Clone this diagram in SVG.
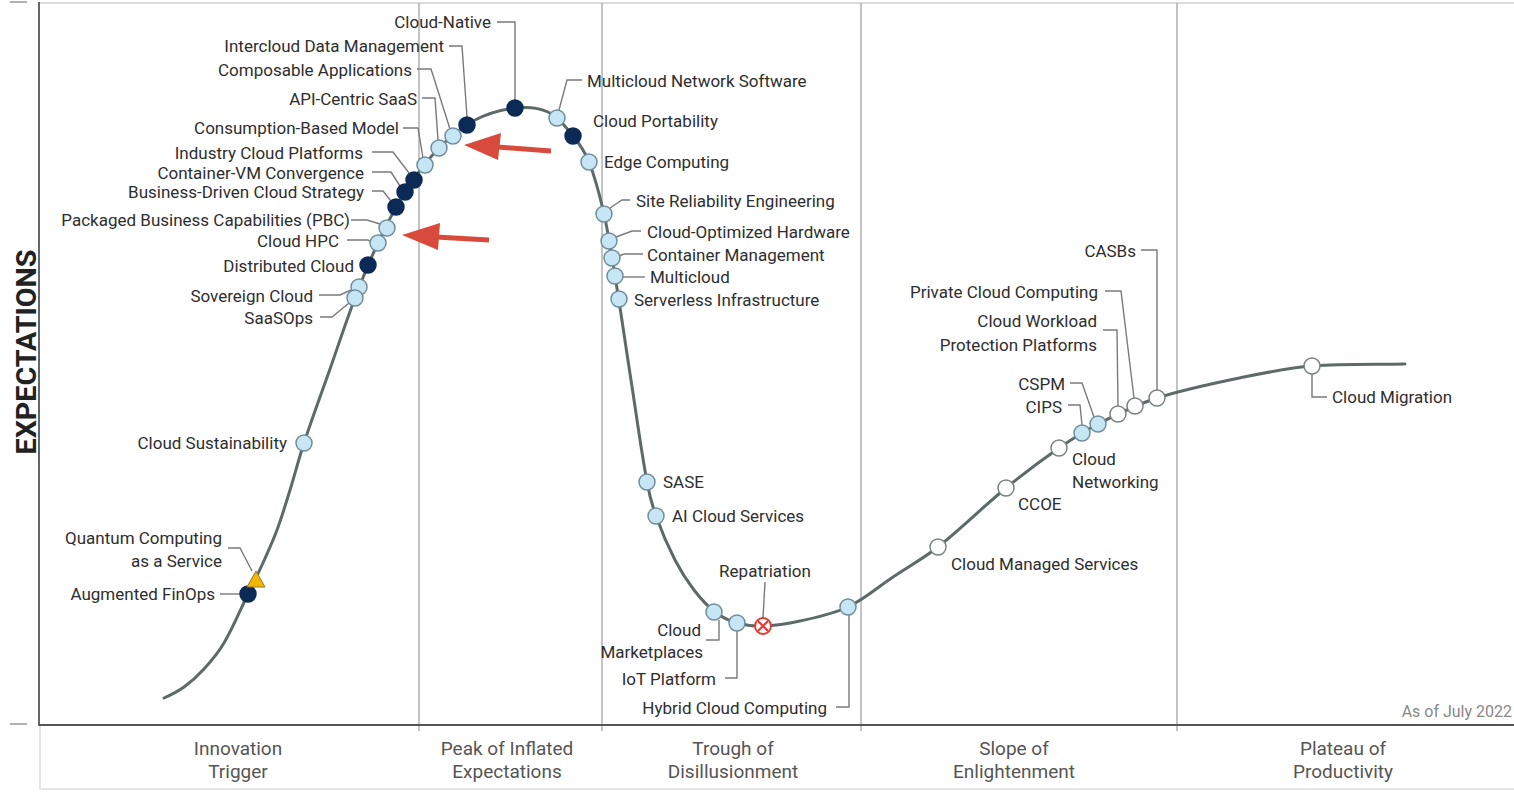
<svg xmlns="http://www.w3.org/2000/svg" width="1514" height="792" viewBox="0 0 1514 792">
<style>
.lbl{font-family:Roboto,"Liberation Sans",Arial,sans-serif;font-size:17px;fill:#2e2e2e}
.e{text-anchor:end}
.m{text-anchor:middle}
.phase{font-family:Roboto,"Liberation Sans",Arial,sans-serif;font-size:19px;fill:#555;text-anchor:middle}
.ld{fill:none;stroke:#7a7a7a;stroke-width:1.4}
.lb{fill:#c6e6f5;stroke:#6f8d9b;stroke-width:1.5}
.dk{fill:#0b2a55;stroke:#0b2a55;stroke-width:1.5}
.wh{fill:#fff;stroke:#788282;stroke-width:1.5}
.div{stroke:#b0b0b0;stroke-width:1.5}
.arr{fill:#d84a3b}
</style>
<rect width="1514" height="792" fill="#fff"/>
<g id="frame">
<line x1="39" y1="3" x2="1514" y2="3" stroke="#dcdcdc" stroke-width="2"/>
<line x1="40" y1="789" x2="1514" y2="789" stroke="#e6e6e6" stroke-width="2"/>
<line x1="40" y1="726" x2="40" y2="790" stroke="#e6e6e6" stroke-width="2"/>
<line x1="10" y1="2" x2="27" y2="2" stroke="#999" stroke-width="1.5"/>
<line x1="10" y1="724" x2="27" y2="724" stroke="#999" stroke-width="1.5"/>
<line class="div" x1="419" y1="3" x2="419" y2="731"/>
<line class="div" x1="602" y1="3" x2="602" y2="731"/>
<line class="div" x1="861" y1="3" x2="861" y2="731"/>
<line class="div" x1="1177" y1="3" x2="1177" y2="731"/>
<line x1="39" y1="2" x2="39" y2="726" stroke="#666" stroke-width="2"/>
<line x1="39" y1="725" x2="1514" y2="725" stroke="#555" stroke-width="2"/>
<text x="0" y="0" transform="translate(36,352) rotate(-90)" font-family="Roboto,'Liberation Sans',Arial,sans-serif" font-weight="bold" font-size="27" fill="#222" text-anchor="middle" textLength="205" lengthAdjust="spacingAndGlyphs">EXPECTATIONS</text>
<text x="1512" y="717" font-family="Roboto,'Liberation Sans',Arial,sans-serif" font-size="16" fill="#888" text-anchor="end">As of July 2022</text>
<text class="phase" x="238" y="755">Innovation</text><text class="phase" x="238" y="778">Trigger</text>
<text class="phase" x="507" y="755">Peak of Inflated</text><text class="phase" x="507" y="778">Expectations</text>
<text class="phase" x="733" y="755">Trough of</text><text class="phase" x="733" y="778">Disillusionment</text>
<text class="phase" x="1014" y="755">Slope of</text><text class="phase" x="1014" y="778">Enlightenment</text>
<text class="phase" x="1343" y="755">Plateau of</text><text class="phase" x="1343" y="778">Productivity</text>
</g>
<g id="curve">
<path d="M164,698 C170.9,694.9 177.8,691.5 184,687 C191.3,681.7 197.9,675.7 204,669 C211.3,660.9 218.5,652.4 224,643 C233.2,627.3 240,610.4 248,594 C252.7,584.4 257.6,574.7 262,565 C267.2,553.4 272.6,541.9 277,530 C281.9,516.9 285.9,503.4 290,490 C294.8,474.4 298.9,458.5 304,443 C312.2,418.2 321.3,393.6 330,369 C338.3,345.3 346.1,321.5 355,298 C362.1,279.4 369.5,261 378,243 C386.2,225.6 394.6,208.1 405,192 C415,176.4 426.1,161.3 439,148 C449.6,137.1 461.5,127.1 475,120 C487.3,113.5 501.2,109.5 515,108 C526,106.8 538,107.2 548,112 C558.5,117 565.6,127 573,136 C579.5,143.9 585.2,152.5 589,162 C595.6,178.7 600,196.4 604,214 C608.7,234.5 611.6,255.3 615,276 C620.7,310.6 625.6,345.3 631,380 C636.3,414 640.8,448.2 647,482 C649.1,493.5 652,505 656,516 C661.4,531.1 667.7,545.8 675,560 C680.4,570.5 686.8,580.6 694,590 C700.2,598 707,605.8 715,612 C721.5,617 729.1,620.7 737,623 C745.4,625.4 754.3,626.3 763,626 C775.4,625.6 787.9,623.7 800,621 C816.3,617.4 832.9,614.1 848,607 C864.3,599.3 878,587 893,577 C908,567 923.9,558.1 938,547 C961.6,528.4 982.8,507 1006,488 C1023.1,474 1040.9,460.6 1059,448 C1071.6,439.3 1084.4,431 1098,424 C1117.2,414.2 1136.5,404.6 1157,398 C1185.4,388.9 1214.8,383 1244,377 C1266.5,372.4 1289.1,367.8 1312,366 C1342.9,363.5 1374,364.6 1405,364" fill="none" stroke="#5d6a69" stroke-width="3" stroke-linecap="round"/>
</g>
<g id="connectors">
<path class="ld" d="M497,22 H515 V100"/>
<path class="ld" d="M449,46 H462 L467,117"/>
<path class="ld" d="M417,69 H431 L450,129"/>
<path class="ld" d="M422,98 H435 L438,140"/>
<path class="ld" d="M403,128 H418 L423,158"/>
<path class="ld" d="M372,152 H393 L409,173"/>
<path class="ld" d="M372,172 H391 L400,186"/>
<path class="ld" d="M372,191 H383 L391,201"/>
<path class="ld" d="M351,220 H367 L380,224"/>
<path class="ld" d="M347,240 H368 L371,242"/>
<path class="ld" d="M319,295 H340 L351,290"/>
<path class="ld" d="M320,317 H332 L349,303"/>
<path class="ld" d="M228,548 H240 L252,571"/>
<path class="ld" d="M220,594 H240"/>
<path class="ld" d="M582,80 H567 L559,110"/>
<path class="ld" d="M630,200 H622 L610,208"/>
<path class="ld" d="M641,231 H632 L616,237"/>
<path class="ld" d="M643,254 H624 L619,256"/>
<path class="ld" d="M645,277 H622"/>
<path class="ld" d="M765,582 L763,618"/>
<path class="ld" d="M706,640 H719 V620"/>
<path class="ld" d="M725,678 H737 V631"/>
<path class="ld" d="M836,707 H849 V615"/>
<path class="ld" d="M1141,250 H1157 V390"/>
<path class="ld" d="M1105,291 H1121 L1134,398"/>
<path class="ld" d="M1103,330 H1117 L1118,406"/>
<path class="ld" d="M1070,383 H1082 L1094,417"/>
<path class="ld" d="M1068,405 H1080 L1082,425"/>
<path class="ld" d="M1312,374 V397 H1327"/>
</g>
<g id="n-cloud-native"><circle class="dk" cx="515" cy="108" r="8"/><text class="lbl e" x="491" y="28">Cloud-Native</text></g>
<g id="n-intercloud"><circle class="dk" cx="467" cy="125" r="8"/><text class="lbl e" x="444" y="52">Intercloud Data Management</text></g>
<g id="n-composable"><circle class="lb" cx="453" cy="136" r="8"/><text class="lbl e" x="412" y="76">Composable Applications</text></g>
<g id="n-api-saas"><circle class="lb" cx="439" cy="148" r="8"/><text class="lbl e" x="417" y="105">API-Centric SaaS</text></g>
<g id="n-consumption"><circle class="lb" cx="425" cy="165" r="8"/><text class="lbl e" x="399" y="134">Consumption-Based Model</text></g>
<g id="n-industry"><circle class="dk" cx="414" cy="180" r="8"/><text class="lbl e" x="363" y="159">Industry Cloud Platforms</text></g>
<g id="n-container-vm"><circle class="dk" cx="405" cy="192" r="8"/><text class="lbl e" x="364" y="179">Container-VM Convergence</text></g>
<g id="n-business-driven"><circle class="dk" cx="396" cy="207" r="8"/><text class="lbl e" x="364" y="198">Business-Driven Cloud Strategy</text></g>
<g id="n-pbc"><circle class="lb" cx="387" cy="228" r="8"/><text class="lbl e" x="350" y="226">Packaged Business Capabilities (PBC)</text></g>
<g id="n-hpc"><circle class="lb" cx="378" cy="243" r="8"/><text class="lbl e" x="339" y="247">Cloud HPC</text></g>
<g id="n-distributed"><circle class="dk" cx="368" cy="265" r="8"/><text class="lbl e" x="354" y="272">Distributed Cloud</text></g>
<g id="n-sovereign"><circle class="lb" cx="359" cy="287" r="8"/><text class="lbl e" x="313" y="302">Sovereign Cloud</text></g>
<g id="n-saasops"><circle class="lb" cx="355" cy="298" r="8"/><text class="lbl e" x="313" y="324">SaaSOps</text></g>
<g id="n-sustainability"><circle class="lb" cx="304" cy="443" r="8"/><text class="lbl e" x="287" y="449">Cloud Sustainability</text></g>
<g id="n-finops"><circle class="dk" cx="248" cy="594" r="8"/><text class="lbl e" x="215" y="600">Augmented FinOps</text></g>
<g id="n-quantum"><polygon points="256,571 247,587 265,587" fill="#f5b500" stroke="#8c7a30" stroke-width="1"/><text class="lbl e" x="222" y="544">Quantum Computing</text><text class="lbl e" x="222" y="567">as a Service</text></g>
<g id="n-mcns"><circle class="lb" cx="557" cy="118" r="8"/><text class="lbl" x="587" y="87">Multicloud Network Software</text></g>
<g id="n-portability"><circle class="dk" cx="573" cy="136" r="8"/><text class="lbl" x="593" y="127">Cloud Portability</text></g>
<g id="n-edge"><circle class="lb" cx="589" cy="162" r="8"/><text class="lbl" x="604" y="168">Edge Computing</text></g>
<g id="n-sre"><circle class="lb" cx="604" cy="214" r="8"/><text class="lbl" x="636" y="207">Site Reliability Engineering</text></g>
<g id="n-cohw"><circle class="lb" cx="609" cy="241" r="8"/><text class="lbl" x="647" y="238">Cloud-Optimized Hardware</text></g>
<g id="n-container-mgmt"><circle class="lb" cx="612" cy="258" r="8"/><text class="lbl" x="647" y="261">Container Management</text></g>
<g id="n-multicloud"><circle class="lb" cx="615" cy="276" r="8"/><text class="lbl" x="650" y="283">Multicloud</text></g>
<g id="n-serverless"><circle class="lb" cx="619" cy="299" r="8"/><text class="lbl" x="634" y="306">Serverless Infrastructure</text></g>
<g id="n-sase"><circle class="lb" cx="647" cy="482" r="8"/><text class="lbl" x="663" y="488">SASE</text></g>
<g id="n-ai-cloud"><circle class="lb" cx="656" cy="516" r="8"/><text class="lbl" x="672" y="522">AI Cloud Services</text></g>
<g id="n-marketplaces"><circle class="lb" cx="714" cy="612" r="8"/><text class="lbl e" x="701" y="636">Cloud</text><text class="lbl e" x="703" y="658">Marketplaces</text></g>
<g id="n-iot"><circle class="lb" cx="737" cy="623" r="8"/><text class="lbl e" x="716" y="685">IoT Platform</text></g>
<g id="n-repatriation"><circle cx="763" cy="626" r="8" fill="#fff" stroke="#e53935" stroke-width="2"/><path d="M758,621 L768,631 M768,621 L758,631" stroke="#e53935" stroke-width="2.2"/><text class="lbl m" x="765" y="577">Repatriation</text></g>
<g id="n-hybrid"><circle class="lb" cx="848" cy="607" r="8"/><text class="lbl e" x="827" y="714">Hybrid Cloud Computing</text></g>
<g id="n-managed"><circle class="wh" cx="938" cy="547" r="8"/><text class="lbl" x="951" y="570">Cloud Managed Services</text></g>
<g id="n-ccoe"><circle class="wh" cx="1006" cy="488" r="8"/><text class="lbl" x="1018" y="510">CCOE</text></g>
<g id="n-networking"><circle class="wh" cx="1059" cy="448" r="8"/><text class="lbl" x="1072" y="465">Cloud</text><text class="lbl" x="1072" y="488">Networking</text></g>
<g id="n-cips"><circle class="lb" cx="1082" cy="433" r="8"/><text class="lbl e" x="1062" y="413">CIPS</text></g>
<g id="n-cspm"><circle class="lb" cx="1098" cy="424" r="8"/><text class="lbl e" x="1065" y="390">CSPM</text></g>
<g id="n-cwpp"><circle class="wh" cx="1118" cy="414" r="8"/><text class="lbl e" x="1097" y="327">Cloud Workload</text><text class="lbl e" x="1097" y="351">Protection Platforms</text></g>
<g id="n-private"><circle class="wh" cx="1135" cy="406" r="8"/><text class="lbl e" x="1098" y="298">Private Cloud Computing</text></g>
<g id="n-casbs"><circle class="wh" cx="1157" cy="398" r="8"/><text class="lbl e" x="1136" y="257">CASBs</text></g>
<g id="n-migration"><circle class="wh" cx="1312" cy="366" r="8"/><text class="lbl" x="1332" y="403">Cloud Migration</text></g>
<g id="annotations">
<path d="M551,151 L498,147" stroke="#d84a3b" stroke-width="5"/>
<polygon class="arr" points="464,145 501,133 498,160"/>
<path d="M489,240 L436,237" stroke="#d84a3b" stroke-width="5"/>
<polygon class="arr" points="402,235 440,223 438,250"/>
</g>
</svg>
